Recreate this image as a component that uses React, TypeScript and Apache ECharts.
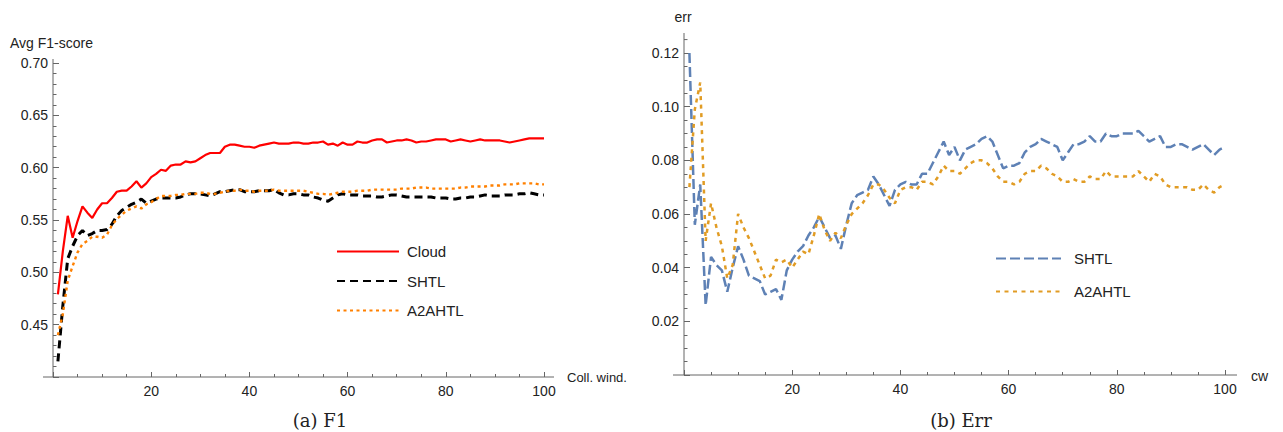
import React, { useEffect, useRef } from "react";
import * as echarts from "echarts";

// collision window index 1..100
const cw = Array.from({ length: 100 }, (_, i) => i + 1);

// (a) F1 — Avg F1-score
const f1Cloud = [
  0.479, 0.52, 0.554, 0.533, 0.549, 0.563, 0.557, 0.552, 0.56, 0.566,
  0.566, 0.571, 0.577, 0.578, 0.578, 0.582, 0.587, 0.581, 0.585, 0.591,
  0.594, 0.598, 0.597, 0.602, 0.603, 0.603, 0.606, 0.605, 0.606, 0.609,
  0.612, 0.614, 0.614, 0.614, 0.62, 0.622, 0.622, 0.621, 0.62, 0.62,
  0.619, 0.621, 0.622, 0.623, 0.624, 0.623, 0.623, 0.623, 0.624, 0.624,
  0.623, 0.623, 0.624, 0.624, 0.625, 0.622, 0.623, 0.621, 0.624, 0.622,
  0.622, 0.625, 0.624, 0.624, 0.626, 0.627, 0.627, 0.624, 0.625, 0.626,
  0.626, 0.627, 0.626, 0.624, 0.625, 0.625, 0.626, 0.627, 0.627, 0.627,
  0.625, 0.626, 0.627, 0.626, 0.625, 0.626, 0.627, 0.626, 0.626, 0.626,
  0.626, 0.625, 0.624, 0.625, 0.626, 0.627, 0.628, 0.628, 0.628, 0.628,
];
const f1Shtl = [
  0.415, 0.468, 0.513, 0.525, 0.535, 0.54, 0.535, 0.537, 0.54, 0.54,
  0.541, 0.546, 0.554, 0.559, 0.562, 0.565, 0.567, 0.57, 0.566, 0.568,
  0.57, 0.571, 0.571, 0.571, 0.571, 0.572, 0.574, 0.575, 0.575, 0.575,
  0.574, 0.573, 0.575, 0.577, 0.577, 0.578, 0.579, 0.579, 0.577, 0.577,
  0.577, 0.578, 0.578, 0.578, 0.579, 0.576, 0.574, 0.574, 0.575, 0.575,
  0.574, 0.574, 0.572, 0.571, 0.569, 0.568, 0.571, 0.574, 0.575, 0.574,
  0.574, 0.574, 0.573, 0.573, 0.573, 0.572, 0.572, 0.573, 0.574, 0.574,
  0.573, 0.572, 0.572, 0.572, 0.572, 0.572, 0.572, 0.571, 0.571, 0.571,
  0.57, 0.57, 0.571, 0.571, 0.572, 0.572, 0.573, 0.574, 0.573, 0.573,
  0.573, 0.574, 0.574, 0.574, 0.575, 0.575, 0.576, 0.575, 0.574, 0.574,
];
const f1A2a = [
  0.44, 0.46, 0.492, 0.506, 0.519, 0.527, 0.53, 0.534, 0.534, 0.533,
  0.536, 0.545, 0.551, 0.555, 0.559, 0.561, 0.563, 0.561, 0.565, 0.567,
  0.57, 0.573, 0.573, 0.573, 0.574, 0.574, 0.575, 0.575, 0.575, 0.576,
  0.576, 0.575, 0.575, 0.576, 0.577, 0.578, 0.578, 0.579, 0.578, 0.578,
  0.577, 0.578, 0.578, 0.578, 0.579, 0.578, 0.578, 0.578, 0.578, 0.578,
  0.578, 0.577, 0.576, 0.575, 0.575, 0.574, 0.575, 0.576, 0.577, 0.577,
  0.577, 0.578, 0.578, 0.578, 0.579, 0.579, 0.579, 0.579, 0.579, 0.579,
  0.58, 0.58, 0.58, 0.581, 0.581, 0.581, 0.58, 0.58, 0.58, 0.58,
  0.58, 0.58, 0.581, 0.581, 0.582, 0.582, 0.582, 0.582, 0.583, 0.583,
  0.583, 0.584, 0.584, 0.584, 0.585, 0.585, 0.585, 0.585, 0.584, 0.584,
];

// (b) Err — err
const errShtl = [
  0.12, 0.056, 0.071, 0.026, 0.044, 0.041, 0.039, 0.031, 0.04, 0.048,
  0.043, 0.037, 0.036, 0.035, 0.03, 0.031, 0.032, 0.028, 0.039, 0.043,
  0.046, 0.048, 0.052, 0.055, 0.059, 0.055, 0.051, 0.052, 0.047, 0.056,
  0.064, 0.067, 0.068, 0.069, 0.074, 0.071, 0.067, 0.063, 0.069, 0.071,
  0.072, 0.071, 0.071, 0.075, 0.075, 0.079, 0.083, 0.087, 0.082, 0.085,
  0.08, 0.084, 0.085, 0.086, 0.088, 0.089, 0.087, 0.082, 0.077, 0.078,
  0.078, 0.079, 0.083, 0.085, 0.086, 0.088, 0.087, 0.086, 0.085, 0.08,
  0.083, 0.086, 0.086, 0.087, 0.089, 0.087, 0.087, 0.09, 0.089, 0.089,
  0.09, 0.09, 0.09, 0.091, 0.089, 0.087, 0.088, 0.089, 0.085, 0.085,
  0.086, 0.086, 0.085, 0.084, 0.085, 0.086, 0.084, 0.082, 0.084, 0.085,
];
const errA2a = [
  0.07, 0.099, 0.109, 0.05, 0.064, 0.055, 0.048, 0.036, 0.041, 0.06,
  0.055, 0.051, 0.046, 0.041, 0.036, 0.037, 0.043, 0.042, 0.043, 0.04,
  0.043, 0.046, 0.045, 0.052, 0.06, 0.054, 0.05, 0.053, 0.051, 0.056,
  0.06, 0.062, 0.064, 0.067, 0.071, 0.071, 0.069, 0.066, 0.064, 0.069,
  0.07, 0.07, 0.069, 0.072, 0.072, 0.071, 0.074, 0.078, 0.076, 0.076,
  0.075, 0.077, 0.079, 0.08, 0.08, 0.079, 0.077, 0.074, 0.072, 0.072,
  0.071, 0.072, 0.075, 0.076, 0.076, 0.078, 0.077, 0.075, 0.074, 0.072,
  0.072, 0.073, 0.072, 0.072, 0.074, 0.073, 0.073, 0.076, 0.074, 0.074,
  0.074, 0.074, 0.074, 0.076, 0.074, 0.072, 0.075, 0.074, 0.071, 0.07,
  0.07, 0.07, 0.07, 0.069, 0.069, 0.071, 0.069, 0.068, 0.07, 0.071,
];

const SANS = "'Liberation Sans', Arial, sans-serif";
const SERIF = "'DejaVu Serif', serif";
const AXIS = "#666666";
const LABEL = "#222222";

const G1 = { left: 53, top: 63, width: 491, height: 314 };
const G2 = { left: 684, top: 53, width: 541, height: 322 };

const pts = (ys: number[]) => ys.map((v, i) => [cw[i], v]);

function xAxisOf(gridIndex: number) {
  return {
    type: "value",
    gridIndex,
    min: 0,
    max: 100,
    interval: 20,
    axisLine: { show: false },
    axisTick: { show: true, inside: true, length: 5, lineStyle: { color: AXIS } },
    minorTick: { show: true, splitNumber: 4, length: 3, lineStyle: { color: AXIS } },
    splitLine: { show: false },
    minorSplitLine: { show: false },
    axisLabel: {
      showMinLabel: false,
      margin: 7,
      fontSize: 14,
      fontFamily: SANS,
      color: LABEL,
    },
  };
}

function yAxisOf(gridIndex: number, min: number, max: number, interval: number, split: number) {
  return {
    type: "value",
    gridIndex,
    min,
    max,
    interval,
    axisLine: { show: false },
    axisTick: { show: true, inside: true, length: 6, lineStyle: { color: AXIS } },
    minorTick: { show: true, splitNumber: split, length: 3.5, lineStyle: { color: AXIS } },
    splitLine: { show: false },
    minorSplitLine: { show: false },
    axisLabel: {
      showMinLabel: false,
      margin: 5,
      fontSize: 14,
      fontFamily: SANS,
      color: LABEL,
      formatter: (v: number) => v.toFixed(2),
    },
  };
}

function line(name: string, data: number[], color: string, width: number, type: any, xi: number) {
  return {
    type: "line",
    name,
    xAxisIndex: xi,
    yAxisIndex: xi,
    data: pts(data),
    symbol: "none",
    showSymbol: false,
    lineStyle: { color, width, type },
    itemStyle: { color },
  };
}

const b1 = G1.top + G1.height;
const b2 = G2.top + G2.height;
const axisLine = (x1: number, y1: number, x2: number, y2: number) => ({
  type: "line",
  shape: { x1, y1, x2, y2 },
  style: { stroke: AXIS, lineWidth: 1 },
  silent: true,
});
const txt = (text: string, x: number, y: number, size: number, align: string, font = SANS) => ({
  type: "text",
  x,
  y,
  silent: true,
  style: {
    text,
    fill: LABEL,
    fontSize: size,
    fontFamily: font,
    align,
    verticalAlign: "middle",
  },
});

const hiddenSymbol = { opacity: 0, color: "transparent", borderColor: "transparent", borderWidth: 0 };

const option: any = {
  animation: false,
  backgroundColor: "#ffffff",
  grid: [
    { ...G1, containLabel: false },
    { ...G2, containLabel: false },
  ],
  xAxis: [xAxisOf(0), xAxisOf(1)],
  yAxis: [yAxisOf(0, 0.4, 0.7, 0.05, 5), yAxisOf(1, 0, 0.12, 0.02, 4)],
  legend: [
    {
      data: ["Cloud", "SHTL", "A2AHTL"],
      orient: "vertical",
      left: 336,
      top: 244,
      padding: 0,
      itemWidth: 62,
      itemHeight: 15,
      itemGap: 14.5,
      selectedMode: false,
      itemStyle: hiddenSymbol,
      textStyle: { fontSize: 15, fontFamily: SANS, color: LABEL, padding: [0, 0, 0, 3] },
    },
    {
      data: ["SHTL_b", "A2AHTL_b"],
      formatter: (n: string) => n.replace("_b", ""),
      orient: "vertical",
      left: 995,
      top: 251,
      padding: 0,
      itemWidth: 65,
      itemHeight: 15,
      itemGap: 18,
      selectedMode: false,
      itemStyle: hiddenSymbol,
      textStyle: { fontSize: 15, fontFamily: SANS, color: LABEL, padding: [0, 0, 0, 8] },
    },
  ],
  series: [
    line("Cloud", f1Cloud, "#ff0000", 2.2, "solid", 0),
    line("SHTL", f1Shtl, "#000000", 3, [8, 5], 0),
    line("A2AHTL", f1A2a, "#ff8000", 2.4, [3, 3.5], 0),
    line("SHTL_b", errShtl, "#5e81b5", 2.5, [10, 4], 1),
    line("A2AHTL_b", errA2a, "#e19c24", 2.5, [4, 4.5], 1),
  ],
  graphic: [
    axisLine(G1.left - 10, b1, G1.left + G1.width + 10, b1),
    axisLine(G1.left, b1, G1.left, G1.top - 4),
    axisLine(G2.left - 11, b2, G2.left + G2.width + 12, b2),
    axisLine(G2.left, b2, G2.left, G2.top - 20),
    axisLine(G2.left, b2 - (0.125 / 0.12) * G2.height, G2.left + 3.5, b2 - (0.125 / 0.12) * G2.height),
    txt("Avg F1-score", 10, 43, 14, "left"),
    txt("Coll. wind.", 567, b1, 13, "left"),
    txt("err", 683, 17, 14, "center"),
    txt("cw", 1251, b2 + 1, 14, "left"),
    txt("(a) F1", 320, 420.5, 18, "center", SERIF),
    txt("(b) Err", 961, 420.5, 18, "center", SERIF),
  ],
};

export default function App() {
  const ref = useRef<HTMLDivElement>(null);
  useEffect(() => {
    const chart = echarts.init(ref.current!, null, { renderer: "svg" });
    chart.setOption(option);
    return () => chart.dispose();
  }, []);
  return (
    <div
      ref={ref}
      style={{ position: "absolute", left: 0, top: 0, width: 1283, height: 432, background: "#fff" }}
    />
  );
}
